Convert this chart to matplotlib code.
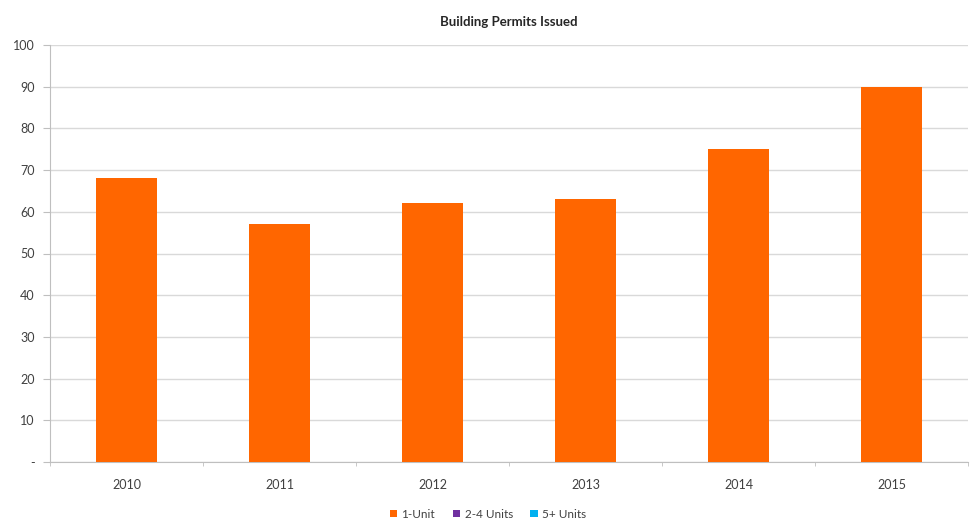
import matplotlib.pyplot as plt
import numpy as np
from matplotlib.patches import Patch

plt.rcParams['font.family'] = ['Lato', 'DejaVu Sans']

years = ['2010', '2011', '2012', '2013', '2014', '2015']
one_unit = [68, 57, 62, 63, 75, 90]
two_four_units = [0, 0, 0, 0, 0, 0]
five_plus_units = [0, 0, 0, 0, 0, 0]
series_names = ['1-Unit', '2-4 Units', '5+ Units']
colors = ['#FF6600', '#7030A0', '#00B0F0']

fig = plt.figure(figsize=(9.76, 5.31), dpi=100)
ax = fig.add_axes([50 / 976, 1 - 462 / 531, 918 / 976, 417 / 531])

x = np.arange(len(years))
bottom = np.zeros(len(years))
for vals, c in zip([one_unit, two_four_units, five_plus_units], colors):
    ax.bar(x, vals, width=0.4, bottom=bottom, color=c, zorder=3)
    bottom += np.array(vals)

ax.set_xlim(-0.5, len(years) - 0.5)
ax.set_ylim(0, 100)
yt = np.arange(0, 101, 10)
ax.set_yticks(yt)
ax.set_yticklabels(['-'] + [str(v) for v in yt[1:]], fontsize=9, color='#404040')
ax.set_xticks(x)
ax.set_xticklabels(years, fontsize=9, color='#404040')
ax.set_xticks(np.arange(-0.5, len(years), 1), minor=True)
ax.tick_params(axis='x', which='major', length=0, pad=12)
ax.tick_params(axis='x', which='minor', length=3, color='#BFBFBF')
ax.tick_params(axis='y', length=5, color='#BFBFBF', pad=6)

ax.grid(axis='y', color='#D9D9D9', linewidth=1, zorder=0)
for s in ['top', 'right']:
    ax.spines[s].set_visible(False)
ax.spines['left'].set_color('#BFBFBF')
ax.spines['bottom'].set_color('#BFBFBF')

ax.set_title('Building Permits Issued', fontsize=9.5, fontweight='bold', color='#262626', pad=14)

handles = [Patch(facecolor=c, edgecolor='none') for c in colors]
fig.legend(handles, series_names, loc='center', bbox_to_anchor=(0.5, 1 - 514 / 531), ncol=3,
           frameon=False, fontsize=8.5, handlelength=0.6, handleheight=0.6,
           handletextpad=0.4, columnspacing=1.5, labelcolor='#404040')

fig.savefig('out.png', dpi=100)
